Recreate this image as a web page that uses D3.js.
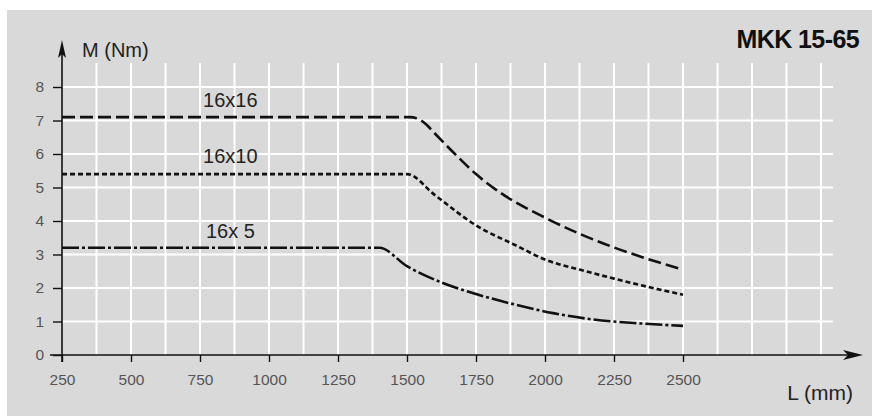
<!DOCTYPE html>
<html><head><meta charset="utf-8">
<script src="https://cdn.jsdelivr.net/npm/d3@7"></script>
<style>body{margin:0;background:#fff}svg{display:block}text{font-family:"Liberation Sans",Arial,sans-serif}</style>
</head><body><svg id="c" width="872" height="416"></svg>
<script>
const title = "MKK 15-65";
const yTitle = "M (Nm)";
const xTitle = "L (mm)";
const xTicks = [250, 500, 750, 1000, 1250, 1500, 1750, 2000, 2250, 2500];
const yTicks = [0, 1, 2, 3, 4, 5, 6, 7, 8];
const xGrid = [375, 500, 625, 750, 875, 1000, 1125, 1250, 1375, 1500, 1625, 1750, 1875, 2000, 2125, 2250, 2375, 2500, 2625, 2750, 2875, 3000];
const yGrid = [1, 2, 3, 4, 5, 6, 7, 8];
const seriesNames = ["16x16", "16x10", "16x 5"];
const L16x16 = [250, 1510, 1540, 1570, 1600, 1680, 1750, 1850, 2000, 2125, 2250, 2375, 2500];
const M16x16 = [7.1, 7.1, 7.05, 6.88, 6.62, 5.95, 5.4, 4.78, 4.1, 3.62, 3.21, 2.86, 2.55];
const L16x10 = [250, 1500, 1600, 1750, 1900, 2000, 2125, 2250, 2375, 2500];
const M16x10 = [5.4, 5.4, 4.78, 3.87, 3.25, 2.85, 2.55, 2.28, 2.03, 1.8];
const L16x5 = [250, 1400, 1500, 1630, 1750, 1884, 2029, 2174, 2350, 2500];
const M16x5 = [3.2, 3.2, 2.65, 2.15, 1.82, 1.52, 1.25, 1.06, 0.94, 0.87];
const labelAt = [[860, 7.4], [860, 5.73], [860, 3.5]];

const svg = d3.select("#c");
const x = d3.scaleLinear().domain([250, 3000]).range([62, 821]);
const y = d3.scaleLinear().domain([0, 8]).range([355, 87]);

svg.append("rect").attr("x", 7).attr("y", 10).attr("width", 872).attr("height", 416).attr("fill", "#d9d9d9");

// grid
svg.append("g").selectAll("line").data(xGrid).join("line")
  .attr("x1", d => x(d)).attr("x2", d => x(d)).attr("y1", 63).attr("y2", y(0))
  .attr("stroke", "#fff").attr("stroke-width", 2);
svg.append("g").selectAll("line").data(yGrid).join("line")
  .attr("x1", x(250)).attr("x2", x(3000) + 12).attr("y1", d => y(d)).attr("y2", d => y(d))
  .attr("stroke", "#fff").attr("stroke-width", 2);

// axes
const ax = svg.append("g").attr("stroke", "#111").attr("stroke-width", 1.6);
ax.append("line").attr("x1", 50).attr("x2", 850).attr("y1", y(0)).attr("y2", y(0));
ax.append("line").attr("x1", x(250)).attr("x2", x(250)).attr("y1", 52).attr("y2", 362);
svg.append("path").attr("d", `M863,${y(0)} L843,${y(0) - 5} L848,${y(0)} L843,${y(0) + 5} Z`).attr("fill", "#111");
svg.append("path").attr("d", `M${x(250)},40 L${x(250) - 4},58 L${x(250)},54 L${x(250) + 4},58 Z`).attr("fill", "#111");

const xAxis = d3.axisBottom(x).tickValues(xTicks).tickSize(7).tickPadding(6).tickFormat(d3.format("d"));
const gx = svg.append("g").attr("transform", `translate(0,${y(0)})`).call(xAxis);
gx.select(".domain").remove();
gx.selectAll("line").attr("stroke", "#111").attr("stroke-width", 1.4);
gx.selectAll("text").attr("fill", "#555").attr("font-size", 15.5).attr("dy", "1.1em")
  .attr("font-family", "'Liberation Sans',Arial,sans-serif");

const yAxis = d3.axisLeft(y).tickValues(yTicks).tickSize(9).tickPadding(9);
const gy = svg.append("g").attr("transform", `translate(${x(250)},0)`).call(yAxis);
gy.select(".domain").remove();
gy.selectAll("line").attr("stroke", "#111").attr("stroke-width", 1.4);
gy.selectAll("text").attr("fill", "#555").attr("font-size", 15.5)
  .attr("font-family", "'Liberation Sans',Arial,sans-serif");

// curves
const line = d3.line().x(d => x(d[0])).y(d => y(d[1])).curve(d3.curveMonotoneX);
const series = [
  {L: L16x16, M: M16x16, dash: "13,5"},
  {L: L16x10, M: M16x10, dash: "5,3"},
  {L: L16x5, M: M16x5, dash: "17,3,3,3"}
];
svg.append("g").selectAll("path").data(series).join("path")
  .attr("d", s => line(s.L.map((v, i) => [v, s.M[i]])))
  .attr("fill", "none").attr("stroke", "#111").attr("stroke-width", 2.6)
  .attr("stroke-dasharray", s => s.dash);

svg.append("g").selectAll("text").data(seriesNames).join("text")
  .attr("x", (d, i) => x(labelAt[i][0])).attr("y", (d, i) => y(labelAt[i][1]))
  .attr("text-anchor", "middle").attr("font-size", 20).attr("fill", "#222").text(d => d);

svg.append("text").attr("x", 82).attr("y", 57).attr("font-size", 20).attr("fill", "#222").text(yTitle);
svg.append("text").attr("x", 853).attr("y", 400).attr("text-anchor", "end").attr("font-size", 21).attr("fill", "#222").text(xTitle);
svg.append("text").attr("x", 859).attr("y", 48).attr("text-anchor", "end").attr("font-size", 25)
  .attr("font-weight", "bold").attr("fill", "#111").attr("letter-spacing", -0.6).text(title);
</script></body></html>
